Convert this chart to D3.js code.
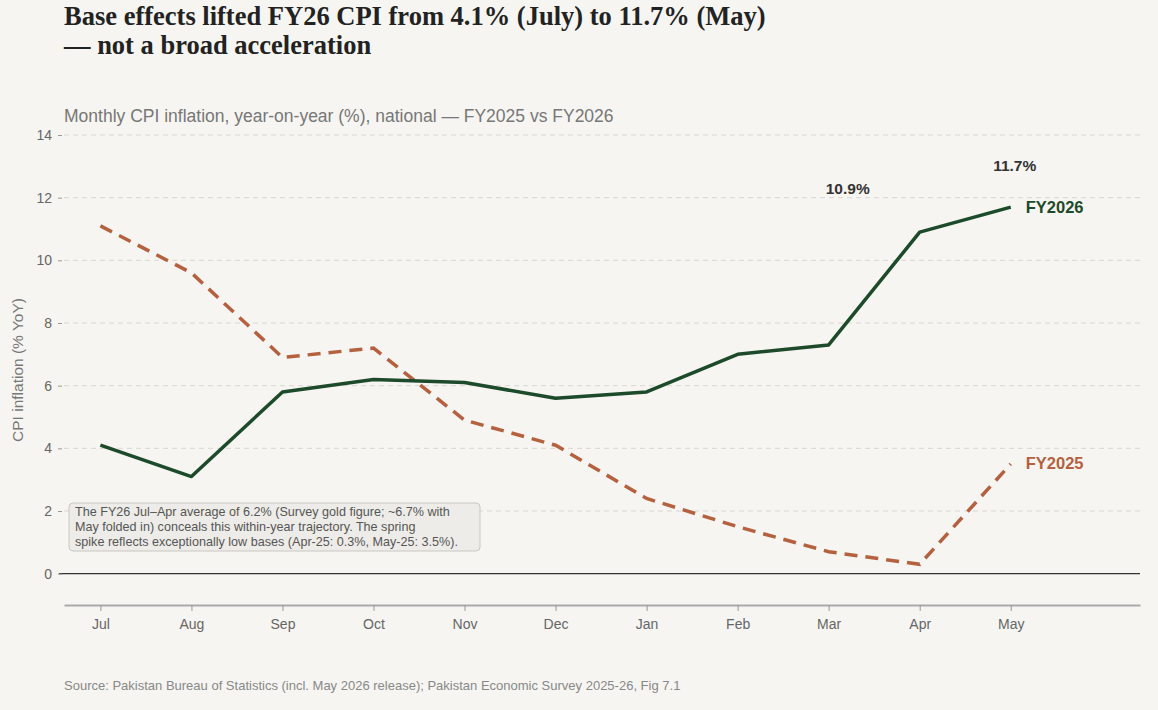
<!DOCTYPE html>
<html>
<head>
<meta charset="utf-8">
<script src="https://cdn.jsdelivr.net/npm/d3@7"></script>
<style>
  body { margin: 0; background: #f6f5f1; }
  svg { display: block; }
</style>
</head>
<body>
<div id="chart"></div>
<script>
// data
const months = ["Jul", "Aug", "Sep", "Oct", "Nov", "Dec", "Jan", "Feb", "Mar", "Apr", "May"]
const fy2026 = [4.1, 3.1, 5.8, 6.2, 6.1, 5.6, 5.8, 7.0, 7.3, 10.9, 11.7]
const fy2025 = [11.1, 9.6, 6.9, 7.2, 4.9, 4.1, 2.4, 1.5, 0.7, 0.3, 3.5]
const yTicks = [0, 2, 4, 6, 8, 10, 12, 14]
const noteLines = [
    "The FY26 Jul\u2013Apr average of 6.2% (Survey gold figure; ~6.7% with",
    "May folded in) conceals this within-year trajectory. The spring",
    "spike reflects exceptionally low bases (Apr-25: 0.3%, May-25: 3.5%)."
]

const width = 1158, height = 710
const plotLeft = 64, plotRight = 1140, plotTop = 135, plotBottom = 605
const green = "#1c4a2a", rust = "#b5603f"

const svg = d3.select("#chart").append("svg")
    .attr("width", width).attr("height", height)
    .style("background", "#f6f5f1")

const x = d3.scaleLinear().domain([-0.4, 11.42]).range([plotLeft, plotRight])
const y = d3.scaleLinear().domain([-1, 14]).range([plotBottom, plotTop])

// gridlines
svg.append("g").selectAll("line")
    .data(yTicks.filter(d => d !== 0))
    .join("line")
    .attr("x1", plotLeft).attr("x2", plotRight)
    .attr("y1", d => y(d)).attr("y2", d => y(d))
    .attr("stroke", "#d9d7d2").attr("stroke-dasharray", "5,4")

// zero line
svg.append("line")
    .attr("x1", 59).attr("x2", plotRight)
    .attr("y1", y(0)).attr("y2", y(0))
    .attr("stroke", "#333").attr("stroke-width", 1.2)

// y axis
const yAxis = svg.append("g")
    .attr("transform", `translate(${plotLeft - 2},0)`)
    .call(d3.axisLeft(y).tickValues(yTicks).tickSize(4).tickPadding(6))
yAxis.select(".domain").remove()
yAxis.selectAll("line").attr("stroke", "#999")
yAxis.selectAll("text").attr("fill", "#666").style("font", "14px 'Liberation Sans', Arial, sans-serif")

// x axis
const xAxis = svg.append("g")
    .attr("transform", `translate(0,${plotBottom})`)
    .call(d3.axisBottom(x).tickValues(d3.range(months.length)).tickFormat(i => months[i]).tickSize(6).tickPadding(8).tickSizeOuter(0))
xAxis.select(".domain").attr("stroke", "#aaa").attr("stroke-width", 2)
xAxis.selectAll("line").attr("stroke", "#999")
xAxis.selectAll("text").attr("fill", "#666").style("font", "14px 'Liberation Sans', Arial, sans-serif")

// lines
const line = d3.line().x((d, i) => x(i)).y(d => y(d))

svg.append("path").datum(fy2025)
    .attr("d", line).attr("fill", "none")
    .attr("stroke", rust).attr("stroke-width", 3.5)
    .attr("stroke-dasharray", "13,8")

svg.append("path").datum(fy2026)
    .attr("d", line).attr("fill", "none")
    .attr("stroke", green).attr("stroke-width", 3.5)
    .attr("stroke-linejoin", "round")

// series labels
const last = months.length - 1
svg.append("text")
    .attr("x", x(last) + 15).attr("y", y(fy2026[last]) + 6)
    .attr("fill", green).style("font", "bold 16.5px 'Liberation Sans', Arial, sans-serif")
    .text("FY2026")
svg.append("text")
    .attr("x", x(last) + 15).attr("y", y(fy2025[last]) + 5)
    .attr("fill", rust).style("font", "bold 16.5px 'Liberation Sans', Arial, sans-serif")
    .text("FY2025")

// value labels
svg.append("text")
    .attr("x", x(last - 1) - 72).attr("y", y(fy2026[last - 1]) - 38)
    .attr("text-anchor", "middle").attr("fill", "#333")
    .style("font", "bold 15.5px 'Liberation Sans', Arial, sans-serif")
    .text(fy2026[last - 1].toFixed(1) + "%")
svg.append("text")
    .attr("x", x(last) + 4).attr("y", y(fy2026[last]) - 36)
    .attr("text-anchor", "middle").attr("fill", "#333")
    .style("font", "bold 15.5px 'Liberation Sans', Arial, sans-serif")
    .text(fy2026[last].toFixed(1) + "%")

// note box
const note = svg.append("g").attr("transform", "translate(69,503)")
note.append("rect")
    .attr("width", 411).attr("height", 48).attr("rx", 4)
    .attr("fill", "#eeece8").attr("stroke", "#c9c7c2")
note.selectAll("text").data(noteLines).join("text")
    .attr("x", 6).attr("y", (d, i) => 13 + i * 15)
    .attr("fill", "#555")
    .style("font", "12.6px 'Liberation Sans', Arial, sans-serif")
    .text(d => d)

// y title
svg.append("text")
    .attr("transform", "translate(23,370) rotate(-90)")
    .attr("text-anchor", "middle").attr("fill", "#777")
    .style("font", "15.5px 'Liberation Sans', Arial, sans-serif")
    .text("CPI inflation (% YoY)")

// title
const title = svg.append("text").attr("fill", "#222")
    .style("font", "bold 26.5px 'Liberation Serif', Georgia, serif")
title.append("tspan").attr("x", 64).attr("y", 25)
    .text("Base effects lifted FY26 CPI from 4.1% (July) to 11.7% (May)")
title.append("tspan").attr("x", 64).attr("y", 54)
    .text("\u2014 not a broad acceleration")

svg.append("text")
    .attr("x", 64).attr("y", 122).attr("fill", "#777")
    .style("font", "17.5px 'Liberation Sans', Arial, sans-serif")
    .text("Monthly CPI inflation, year-on-year (%), national \u2014 FY2025 vs FY2026")

svg.append("text")
    .attr("x", 64).attr("y", 690).attr("fill", "#888")
    .style("font", "13px 'Liberation Sans', Arial, sans-serif")
    .text("Source: Pakistan Bureau of Statistics (incl. May 2026 release); Pakistan Economic Survey 2025-26, Fig 7.1")
</script>
</body>
</html>
